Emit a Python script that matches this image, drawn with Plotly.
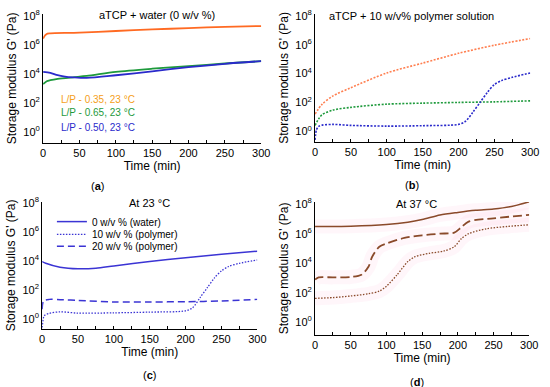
import plotly.graph_objects as go

# ---------------- data (log10 of G' in Pa) ----------------
# Panel (a): aTCP + water
a_t_orange = [0, 3, 6, 10, 50, 100, 150, 200, 250, 300]
a_orange = [6.44, 6.67, 6.78, 6.80, 6.85, 6.96, 7.07, 7.16, 7.25, 7.30]
a_t_green = [0, 5, 10, 20, 41, 60, 100, 150, 200, 250, 300]
a_green = [3.30, 3.50, 3.57, 3.66, 3.77, 3.86, 4.14, 4.36, 4.54, 4.72, 4.88]
a_t_blue = [0, 10, 20, 30, 41, 60, 100, 150, 200, 250, 300]
a_blue = [4.14, 4.07, 3.91, 3.82, 3.77, 3.73, 3.91, 4.18, 4.47, 4.70, 4.88]

# Panel (b): aTCP + 10 w/v% polymer solution
b_t_orange = [0, 10, 25, 50, 100, 150, 200, 250, 300]
b_orange = [1.20, 1.88, 2.45, 3.02, 4.04, 4.72, 5.40, 5.96, 6.42]
b_t_green = [0, 5, 10, 25, 50, 100, 150, 200, 250, 300]
b_green = [0.41, 0.86, 1.16, 1.47, 1.66, 1.88, 1.95, 2.00, 2.04, 2.11]
b_t_blue = [0, 2, 5, 10, 25, 50, 100, 150, 200, 210, 220, 230, 240, 250, 260, 275, 300]
b_blue = [-0.60, 0.11, 0.34, 0.43, 0.48, 0.41, 0.36, 0.39, 0.48, 0.70, 1.32, 2.00, 2.68, 3.24, 3.51, 3.74, 4.04]

# Panel (c): at 23 °C
c_t_water = [0, 5, 25, 50, 75, 100, 150, 200, 250, 300]
c_water = [3.97, 3.85, 3.58, 3.47, 3.51, 3.67, 3.97, 4.24, 4.47, 4.69]
c_t_p10 = [0, 3, 10, 25, 50, 100, 150, 200, 210, 220, 230, 240, 250, 260, 275, 300]
c_p10 = [-0.79, 0.23, 0.39, 0.50, 0.41, 0.43, 0.48, 0.57, 0.79, 1.47, 2.15, 2.83, 3.33, 3.63, 3.85, 4.08]
c_t_p20 = [0, 2, 10, 25, 50, 100, 150, 200, 250, 300]
c_p20 = [0.68, 1.25, 1.36, 1.34, 1.29, 1.18, 1.18, 1.20, 1.25, 1.36]

# Panel (d): at 37 °C
d_t_water = [0, 50, 100, 130, 150, 175, 200, 225, 250, 275, 300]
d_water = [6.49, 6.51, 6.62, 6.78, 6.96, 7.27, 7.44, 7.58, 7.67, 7.84, 8.16]
d_t_p20 = [0, 5, 25, 50, 65, 75, 80, 90, 100, 125, 150, 175, 195, 205, 215, 250, 300]
d_p20 = [2.89, 3.04, 3.04, 3.07, 3.22, 3.78, 4.44, 5.11, 5.33, 5.71, 5.89, 6.00, 6.07, 6.44, 6.82, 7.04, 7.27]
d_t_p10 = [0, 25, 50, 75, 90, 100, 115, 130, 140, 160, 180, 195, 205, 215, 240, 270, 300]
d_p10 = [1.62, 1.67, 1.78, 1.93, 2.11, 2.44, 3.22, 4.11, 4.44, 4.67, 4.82, 5.11, 5.67, 6.00, 6.33, 6.49, 6.60]

x_ticks = list(range(0, 301, 25))
x_ticktext = [str(v) if v % 50 == 0 else "" for v in x_ticks]
y_tickvals = [1, 1e2, 1e4, 1e6, 1e8]
y_ticktext = ["10<sup>0</sup>", "10<sup>2</sup>", "10<sup>4</sup>", "10<sup>6</sup>", "10<sup>8</sup>"]

ORANGE = "#FF6A22"
ORANGE_B = "#FF7F50"
GREEN = "#1E9A3C"
BLUE = "#2A2ACB"
BLUE_C = "#3B34D4"
BROWN = "#8A4A2A"
GLOW = "rgba(255,180,215,0.12)"

W, H = 550, 387


def pow10(v):
    return [10 ** x for x in v]


fig = go.Figure()


def add(t, v, color, width, dash, ax, name=None, legend=None):
    kw = {}
    if legend:
        kw["legend"] = legend
    fig.add_trace(go.Scatter(
        x=t, y=pow10(v), mode="lines", name=name, showlegend=bool(legend),
        line=dict(color=color, width=width, dash=dash, shape="spline", smoothing=0.8),
        xaxis="x" + ax, yaxis="y" + ax, hoverinfo="skip", **kw))


# (a)
add(a_t_orange, a_orange, ORANGE, 1.8, "solid", "")
add(a_t_green, a_green, GREEN, 1.8, "solid", "")
add(a_t_blue, a_blue, BLUE, 1.8, "solid", "")
# (b)
add(b_t_orange, b_orange, ORANGE_B, 1.6, "2px,1.5px", "2")
add(b_t_green, b_green, GREEN, 1.6, "2px,1.5px", "2")
add(b_t_blue, b_blue, BLUE, 1.6, "2px,1.5px", "2")
# (c)
add(c_t_water, c_water, BLUE_C, 1.5, "solid", "3", "0 w/v % (water)", "legend")
add(c_t_p10, c_p10, BLUE_C, 1.3, "1.5px,1.5px", "3", "10 w/v % (polymer)", "legend2")
add(c_t_p20, c_p20, BLUE_C, 1.5, "7px,4px", "3", "20 w/v % (polymer)", "legend3")
# (d) glow then lines
for t, v in [(d_t_water, d_water), (d_t_p20, d_p20), (d_t_p10, d_p10)]:
    add(t, v, GLOW, 14, "solid", "4")
add(d_t_water, d_water, BROWN, 1.5, "solid", "4")
add(d_t_p20, d_p20, BROWN, 1.8, "9px,4px", "4")
add(d_t_p10, d_p10, BROWN, 1.3, "1.5px,1.5px", "4")

FONT = "Liberation Sans, Arial, sans-serif"


def px_dom(a, b, total):
    return [a / total, b / total]


def ydom(top, bottom):
    return [1 - bottom / H, 1 - top / H]


xcommon = dict(range=[0, 300], tickvals=x_ticks, ticktext=x_ticktext, ticks="inside",
               ticklen=3, tickcolor="black", showline=True, linecolor="black", linewidth=1,
               showgrid=False, zeroline=False, tickfont=dict(size=11, color="black"),
               title=dict(text="Time (min)", font=dict(size=12, color="black"), standoff=2))
ycommon = dict(type="log", tickvals=y_tickvals, ticktext=y_ticktext, ticks="",
               showline=True, linecolor="black", linewidth=1, showgrid=False, zeroline=False,
               tickfont=dict(size=11, color="black"),
               title=dict(text="Storage modulus G' (Pa)", font=dict(size=12, color="black"), standoff=4))


def leg(y):
    return dict(x=50 / W, y=1 - y / H, xanchor="left", yanchor="middle",
                font=dict(size=10, color="black"), bgcolor="rgba(0,0,0,0)",
                itemwidth=30, borderwidth=0)


fig.update_layout(
    width=W, height=H, margin=dict(l=0, r=0, t=0, b=0),
    paper_bgcolor="white", plot_bgcolor="white",
    font=dict(family=FONT, color="black"),
    xaxis=dict(domain=px_dom(41, 264, W), anchor="y", **xcommon),
    yaxis=dict(domain=ydom(8, 139), anchor="x", range=[-0.75, 8.14], **ycommon),
    xaxis2=dict(domain=px_dom(319, 539, W), anchor="y2", **xcommon),
    yaxis2=dict(domain=ydom(8, 138), anchor="x2", range=[-0.73, 8.13], **ycommon),
    xaxis3=dict(domain=px_dom(40, 260, W), anchor="y3", **xcommon),
    yaxis3=dict(domain=ydom(199, 328), anchor="x3", range=[-0.68, 8.09], **ycommon),
    xaxis4=dict(domain=px_dom(319, 538, W), anchor="y4", **xcommon),
    yaxis4=dict(domain=ydom(199, 334), anchor="x4", range=[-0.85, 8.15], **ycommon),
    legend=leg(219),
    legend2=leg(232),
    legend3=leg(244),
)


def ann(text, x, y, size=11, color="black"):
    fig.add_annotation(text=text, x=x / W, y=1 - y / H, xref="paper", yref="paper",
                       showarrow=False, xanchor="center", yanchor="middle",
                       font=dict(size=size, color=color, family=FONT))


ann("aTCP + water (0 w/v %)", 157, 9, 11)
ann("aTCP + 10 w/v% polymer solution", 418, 10, 11)
ann("At 23 °C", 150, 200, 11)
ann("At 37 °C", 423, 201, 11)
ann("L/P - 0.35, 23 °C", 97, 95, 10, "#F5A020")
ann("L/P - 0.65, 23 °C", 97, 108, 10, GREEN)
ann("L/P - 0.50, 23 °C", 97, 123, 10, BLUE)
ann("(<b>a</b>)", 97, 183, 11)
ann("(<b>b</b>)", 418, 182, 11)
ann("(<b>c</b>)", 150, 375, 11)
ann("(<b>d</b>)", 423, 382, 11)

fig.write_html("out.html",
               config={"displayModeBar": False},
               post_script="document.body.style.margin='0';document.body.style.overflow='hidden';")
